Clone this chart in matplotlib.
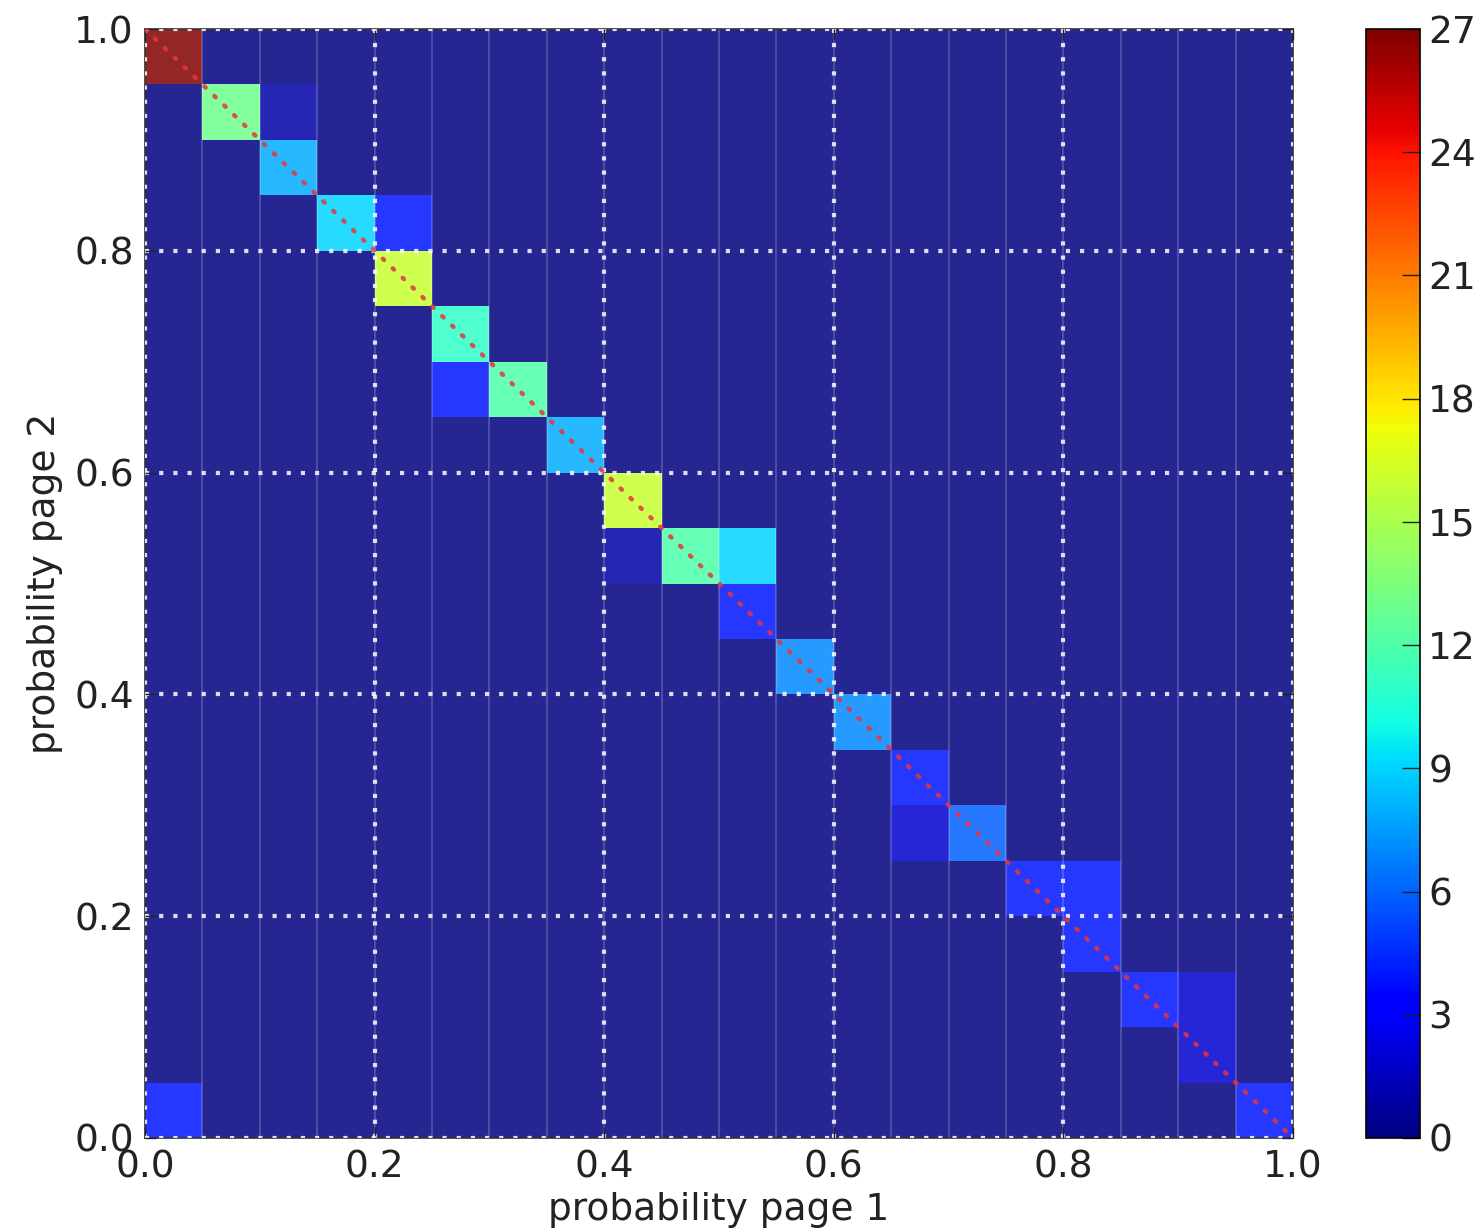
import numpy as np
import matplotlib
matplotlib.use("Agg")
from matplotlib import pyplot as plt
from matplotlib import cm, colors

# 20x20 histogram of paired probabilities, only the non-empty bins are listed
bin_edges = np.linspace(0.0, 1.0, 21)
page1_bin = [0, 1, 2, 2, 3, 4, 4, 5, 5, 6, 7, 8, 8, 9, 10, 10, 11, 12, 13, 13, 14, 15, 16, 16, 17, 18, 18, 0, 19]
page2_bin = [19, 18, 18, 17, 16, 16, 15, 14, 13, 13, 12, 11, 10, 10, 10, 9, 8, 7, 6, 5, 5, 4, 4, 3, 2, 2, 1, 0, 0]
counts = [27, 13, 1, 8, 9, 4, 16, 11, 4, 12, 8, 16, 1, 12, 9, 4, 7, 7, 4, 2, 6, 4, 4, 4, 4, 2, 2, 4, 4]
cbar_ticks = [0, 3, 6, 9, 12, 15, 18, 21, 24, 27]
axis_ticks = [0.0, 0.2, 0.4, 0.6, 0.8, 1.0]

H = np.zeros((20, 20))
for i, j, c in zip(page1_bin, page2_bin, counts):
    H[i, j] = c

fig = plt.figure(figsize=(14.82, 12.31), dpi=100)
ax = fig.add_axes([145 / 1482, 1 - 1138 / 1231, 1148 / 1482, 1109 / 1231])
cax = fig.add_axes([1366 / 1482, 1 - 1138 / 1231, 54 / 1482, 1109 / 1231])

norm = colors.Normalize(vmin=0, vmax=max(counts))
ax.pcolormesh(bin_edges, bin_edges, H.T, cmap="jet", norm=norm, alpha=0.85,
              edgecolors="none", zorder=1)
ax.vlines(bin_edges[1:-1], 0, 1, colors="white", alpha=0.18, linewidth=1.5, zorder=2)
diag, = ax.plot([0, 1], [1, 0], linestyle=(0, (0.4, 2.7)), color="#e8353a",
                linewidth=3.2, alpha=0.85, zorder=3)
diag.set_dash_capstyle("round")

ax.set_xlim(0, 1)
ax.set_ylim(0, 1)
ax.set_xticks(axis_ticks)
ax.set_yticks(axis_ticks)
ax.grid(True, color="white", linestyle=(0, (1, 2.4)), linewidth=3, alpha=0.85, zorder=4)
ax.set_axisbelow(False)
ax.tick_params(direction="in", length=8, width=1, top=True, right=True,
               labelsize=27, pad=8, colors="#222222")
ax.set_xlabel("probability page 1", fontsize=27, labelpad=5, color="#222222")
ax.set_ylabel("probability page 2", fontsize=27, labelpad=8, color="#222222")
for s in ax.spines.values():
    s.set_linewidth(1.2)
    s.set_color("#333333")

sm = cm.ScalarMappable(norm=norm, cmap="jet")
cb = fig.colorbar(sm, cax=cax, ticks=cbar_ticks)
cb.ax.tick_params(direction="in", length=13, width=1, labelsize=27, pad=6,
                  colors="#222222")
cb.outline.set_linewidth(1.2)

fig.savefig("out.png", dpi=100)
